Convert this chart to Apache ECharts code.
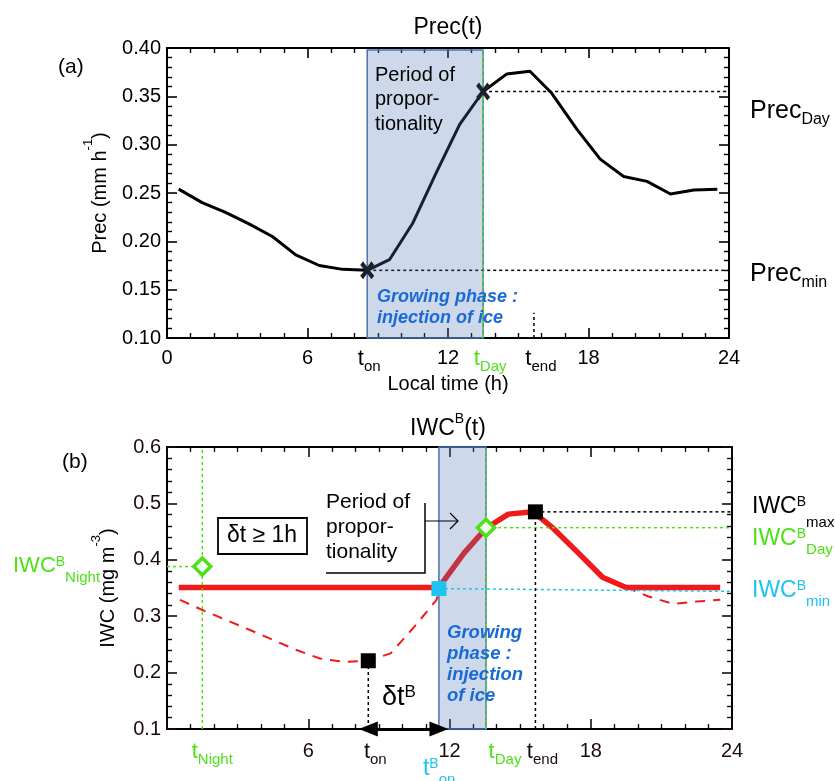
<!DOCTYPE html>
<html><head><meta charset="utf-8">
<script src="https://cdn.jsdelivr.net/npm/echarts@6/dist/echarts.min.js"></script>
<style>html,body{margin:0;padding:0;background:#fff}#c{width:835px;height:781px}</style>
</head><body><div id="c"></div>
<script>
// ================= DATA =================
// Panel (a): Prec(t)
const precHours  = [0.5,1.5,2.5,3.5,4.5,5.5,6.5,7.5,8.55,9.5,10.5,11.5,12.5,13.5,14.5,15.5,16.4,17.5,18.5,19.5,20.5,21.5,22.5,23.5];
const precValues = [0.254,0.240,0.230,0.218,0.205,0.186,0.175,0.171,0.170,0.181,0.219,0.271,0.321,0.355,0.373,0.376,0.354,0.316,0.285,0.267,0.262,0.249,0.253,0.254];
const tOnA = 8.55, tDayA = 13.5, tEndA = 15.67;
const precMin = 0.170, precDay = 0.355, tEndMarkTop = 0.126;
const topTickValues = [0, 6, tOnA, 12, tDayA, tEndA, 18, 24];
const topTickLabels = ['0','6','t_on','12','t_Day','t_end','18','24'];

// Panel (b): IWC^B(t)
const iwcHours  = [0.5,11.55,12.6,13.55,14.5,15.55,16.4,17.5,18.5,19.5,23.5];
const iwcValues = [0.351,0.351,0.411,0.456,0.481,0.485,0.456,0.411,0.369,0.351,0.351];
const obsHoursA  = [0.55,1.5,3.5,5.5,6.5,7.5,8.55,9.5,10.5,11.45,11.55];
const obsValuesA = [0.329,0.311,0.276,0.240,0.225,0.219,0.221,0.234,0.281,0.329,0.351];
const obsHoursB  = [19.5,20.45,21.5,22.5,23.5];
const obsValuesB = [0.351,0.335,0.322,0.326,0.329];
const tNight = 1.5, tOnB = 8.55, tOnBB = 11.55, tDayB = 13.55, tEndB = 15.65;
const iwcNight = 0.388, iwcMinStart = 0.349, iwcMinEnd = 0.344, iwcDay = 0.457, iwcMax = 0.485, iwcLow = 0.221;
const botTickValues = [0, tNight, 6, tOnB, 12, tDayB, tEndB, 18, 24];
const botTickLabels = ['0','t_Night','6','t_on','12','t_Day','t_end','18','24'];

// ================= STYLE =================
const FONT = '"Liberation Sans", Arial, Helvetica, sans-serif';
const GREEN = '#4fe01a', CYAN = '#1ec3ee', RED = '#f01a1a', BLUE_TXT = '#1a6ad6';
const BOX_FILL = 'rgba(74,120,180,0.28)', BOX_LINE = '#4a72ad';
const DARK = '#1c0a0a';
const topTickColors = ['#000','#000','#000','#000',GREEN,'#000','#000','#000'];
const topTickShift  = [0,0,2,0,7,7,0,0];
const botTickColors = [DARK,GREEN,DARK,DARK,DARK,GREEN,DARK,DARK,DARK];
const botTickShift  = [0,10,0,7,0,19,7,0,0];

function tickLabel(values, labels, colors, shifts, baseColor, margin) {
  const rich = {};
  values.forEach((v, i) => {
    if (labels[i].includes('_')) {
      rich['m' + i] = {fontSize: 22, fontFamily: FONT, color: colors[i], verticalAlign: 'top', lineHeight: 26, padding: [0, 0, 0, shifts[i] * 2]};
      rich['s' + i] = {fontSize: 15, fontFamily: FONT, color: colors[i], verticalAlign: 'bottom'};
    } else {
      rich['n' + i] = {fontSize: 20, fontFamily: FONT, color: colors[i], verticalAlign: 'top'};
    }
  });
  return {
    customValues: values, margin, fontSize: 20, fontFamily: FONT, color: baseColor, rich,
    formatter: (val) => {
      const i = values.findIndex(v => Math.abs(v - val) < 1e-6);
      if (i < 0) return '';
      const lab = labels[i];
      if (lab.includes('_')) { const p = lab.split('_'); return '{m' + i + '|' + p[0] + '}{s' + i + '|' + p[1] + '}'; }
      return '{n' + i + '|' + lab + '}';
    }
  };
}

function xAx(grid, pos, label, tickColor, name) {
  const a = {
    gridIndex: grid, type: 'value', min: 0, max: 24, interval: 6, position: pos,
    axisLine: {onZero: false, lineStyle: {color: '#000', width: 2}},
    axisTick: {inside: true, length: 10, lineStyle: {color: tickColor, width: 1.6}},
    minorTick: {show: true, splitNumber: 6, length: 5, lineStyle: {color: tickColor, width: 1.4}},
    splitLine: {show: false}, minorSplitLine: {show: false},
    axisLabel: label || {show: false}
  };
  if (name) Object.assign(a, name);
  return a;
}
function yAx(grid, pos, min, max, interval, split, digits, tickColor, labelColor, name) {
  const a = {
    gridIndex: grid, type: 'value', min, max, interval, position: pos,
    axisLine: {onZero: false, lineStyle: {color: '#000', width: 2}},
    axisTick: {inside: true, length: 10, lineStyle: {color: tickColor, width: 1.6}},
    minorTick: {show: true, splitNumber: split, length: 5, lineStyle: {color: tickColor, width: 1.4}},
    splitLine: {show: false}, minorSplitLine: {show: false},
    axisLabel: digits === null ? {show: false} :
      {show: true, margin: 6, fontSize: 20, fontFamily: FONT, color: labelColor, formatter: v => v.toFixed(digits)}
  };
  if (name) Object.assign(a, name);
  return a;
}

const zip = (xs, ys) => xs.map((x, i) => [x, ys[i]]);
function seg(xi, yi, pts, color, type, width, z) {
  return {type: 'line', xAxisIndex: xi, yAxisIndex: yi, data: pts, symbol: 'none', showSymbol: false, silent: true,
    z: z || 3, animation: false, lineStyle: {color, type, width}};
}
function box(xi, yi, b, z) {
  return {type: 'custom', xAxisIndex: xi, yAxisIndex: yi, z, silent: true, animation: false, data: [b],
    renderItem: (params, api) => {
      const p0 = api.coord([api.value(0), api.value(3)]);
      const p1 = api.coord([api.value(1), api.value(2)]);
      return {type: 'rect', shape: {x: p0[0], y: p0[1], width: p1[0] - p0[0], height: p1[1] - p0[1]},
        style: {fill: BOX_FILL, stroke: BOX_LINE, lineWidth: 1.5}};
    }};
}
function marker(xi, yi, pts, symbol, size, item, z) {
  return {type: 'scatter', xAxisIndex: xi, yAxisIndex: yi, data: pts, symbol, symbolSize: size,
    itemStyle: Object.assign({opacity: 1}, item), z: z || 8, silent: true, animation: false};
}
const XSYM = 'path://M2,0 L5,3.2 L8,0 L10,2 L6.8,5 L10,8 L8,10 L5,6.8 L2,10 L0,8 L3.2,5 L0,2 Z';

const series = [
  // ---- panel (a)
  seg(0, 0, zip(precHours, precValues), '#000', 'solid', 3, 2),
  seg(0, 0, [[tDayA, precDay], [24, precDay]], '#000', [3, 3], 1.5, 3),
  seg(0, 0, [[tOnA, precMin], [24, precMin]], '#000', [3, 3], 1.5, 3),
  seg(0, 0, [[tEndA, 0.10], [tEndA, tEndMarkTop]], '#000', [3, 3], 1.5, 3),
  box(0, 0, [tOnA, tDayA, 0.10, 0.398], 4),
  seg(0, 0, [[tDayA, 0.10], [tDayA, 0.398]], GREEN, [4, 3], 1.5, 6),
  marker(0, 0, [[tOnA, precMin], [tDayA, precDay]], XSYM, [14, 18], {color: '#1e2228'}, 7),
  // ---- panel (b)
  seg(2, 2, zip(iwcHours, iwcValues), RED, 'solid', 5.5, 2),
  seg(2, 2, zip(obsHoursA, obsValuesA), RED, [10, 8], 2, 2),
  seg(2, 2, zip(obsHoursB, obsValuesB), RED, [10, 8], 2, 2),
  box(2, 2, [tOnBB, tDayB, 0.1, 0.6], 4),
  seg(2, 2, [[tNight, 0.1], [tNight, 0.6]], GREEN, [3, 3], 1.5, 6),
  seg(2, 2, [[tDayB, 0.1], [tDayB, 0.6]], GREEN, [3, 3], 1.5, 6),
  seg(2, 2, [[0, iwcNight], [tNight, iwcNight]], GREEN, [3, 3], 1.5, 6),
  seg(2, 2, [[tDayB, iwcDay], [24, iwcDay]], GREEN, [3, 3], 1.5, 6),
  seg(2, 2, [[tEndB, iwcMax], [24, iwcMax]], '#000', [3, 3], 1.5, 6),
  seg(2, 2, [[tOnBB, iwcMinStart], [24, iwcMinEnd]], CYAN, [3, 3], 1.5, 6),
  seg(2, 2, [[tOnB, 0.1], [tOnB, iwcLow]], '#000', [3, 3], 1.5, 6),
  seg(2, 2, [[tEndB, 0.1], [tEndB, iwcMax]], '#000', [3, 3], 1.5, 6),
  {type: 'line', xAxisIndex: 2, yAxisIndex: 2, data: [], silent: true, z: 9,
    markLine: {silent: true, symbol: ['triangle', 'triangle'], symbolSize: [15, 19], animation: false,
      label: {show: false}, lineStyle: {color: '#000', width: 3, type: 'solid'},
      data: [[{coord: [tOnB, 0.1]}, {coord: [tOnBB, 0.1]}]]}},
  marker(2, 2, [[tOnB, iwcLow], [tEndB, iwcMax]], 'rect', 15, {color: '#000'}, 8),
  marker(2, 2, [[tOnBB, iwcMinStart]], 'rect', 15, {color: CYAN}, 8),
  marker(2, 2, [[tNight, iwcNight], [tDayB, iwcDay]], 'diamond', 17,
    {color: '#f2fff0', borderColor: GREEN, borderWidth: 3.5}, 8)
];

const option = {
  animation: false,
  backgroundColor: '#fff',
  grid: [
    {left: 167, top: 48, width: 562, height: 290, outerBoundsMode: 'none', containLabel: false},
    {left: 167, top: 447, width: 565, height: 282, outerBoundsMode: 'none', containLabel: false}
  ],
  xAxis: [
    xAx(0, 'bottom', tickLabel(topTickValues, topTickLabels, topTickColors, topTickShift, '#000', 10), '#000',
      {name: 'Local time (h)', nameLocation: 'middle', nameGap: 33,
       nameTextStyle: {fontSize: 20, fontFamily: FONT, color: '#000'}}),
    xAx(0, 'top', null, '#000'),
    xAx(1, 'bottom', tickLabel(botTickValues, botTickLabels, botTickColors, botTickShift, DARK, 12), DARK),
    xAx(1, 'top', null, DARK)
  ],
  yAxis: [
    yAx(0, 'left', 0.10, 0.40, 0.05, 5, 2, '#000', '#000',
      {name: '{a|Prec (mm h}{b|-1}{a|)}', nameLocation: 'middle', nameRotate: 90, nameGap: 57,
       nameTextStyle: {rich: {a: {fontSize: 20, fontFamily: FONT, color: '#000', verticalAlign: 'bottom', lineHeight: 28},
                              b: {fontSize: 13, fontFamily: FONT, color: '#000', verticalAlign: 'top'}}}}),
    yAx(0, 'right', 0.10, 0.40, 0.05, 5, null, '#000', '#000'),
    yAx(1, 'left', 0.1, 0.6, 0.1, 5, 1, DARK, DARK,
      {name: '{a|IWC (mg m}{b|-3}{a|)}', nameLocation: 'middle', nameRotate: 90, nameGap: 49,
       nameTextStyle: {rich: {a: {fontSize: 20, fontFamily: FONT, color: '#000', verticalAlign: 'bottom', lineHeight: 28},
                              b: {fontSize: 13, fontFamily: FONT, color: '#000', verticalAlign: 'top'}}}}),
    yAx(1, 'right', 0.1, 0.6, 0.1, 5, null, DARK, DARK)
  ],
  series
};

const chart = echarts.init(document.getElementById('c'));
chart.setOption(option);

// ================= ANNOTATIONS =================
function txt(x, y, text, size, color, extra) {
  const st = Object.assign({text, fontSize: size, fontFamily: FONT, fill: color, align: 'left', verticalAlign: 'middle',
    textAlign: 'left', textVerticalAlign: 'middle'}, extra || {});
  return {type: 'text', x, y, z: 100, silent: true, style: st};
}
// main + sup + sub rich label
function richLabel(x, top, main, sup, sub, color, mSize, sSize, drop, align) {
  const L = drop + (mSize + sSize) / 2;
  let t = '{m|' + main + '}';
  if (sup) t += '{p|' + sup + '}';
  if (sub) t += '{s|' + sub + '}';
  return {type: 'text', x, y: top, z: 100, silent: true, style: {
    text: t, fill: color, align: align || 'left', verticalAlign: 'top', textAlign: align || 'left', textVerticalAlign: 'top',
    fontFamily: FONT, fontSize: mSize,
    rich: {m: {fontSize: mSize, fontFamily: FONT, fill: color, color, verticalAlign: 'top', lineHeight: L},
           p: {fontSize: 14, fontFamily: FONT, fill: color, color, verticalAlign: 'top'},
           s: {fontSize: sSize, fontFamily: FONT, fill: color, color, verticalAlign: 'bottom'}}}};
}

const xOnB = chart.convertToPixel({xAxisIndex: 2}, tOnBB);
const yAxB = chart.convertToPixel({yAxisIndex: 2}, 0.1);

const graphics = [
  txt(448, 28, 'Prec(t)', 23, '#000', {align: 'center', textAlign: 'center'}),
  {type: 'text', x: 448, y: 426, z: 100, silent: true, style: {text: '{m|IWC}{p|B}{m|(t)}', align: 'center', verticalAlign: 'middle',
    textAlign: 'center', textVerticalAlign: 'middle', fontFamily: FONT, fontSize: 23, fill: '#000',
    rich: {m: {fontSize: 23, fontFamily: FONT, verticalAlign: 'bottom', lineHeight: 28}, p: {fontSize: 14, fontFamily: FONT, verticalAlign: 'top'}}}},
  txt(58, 67, '(a)', 21, '#000'),
  txt(62, 462, '(b)', 21, '#000'),
  richLabel(750, 99, 'Prec', null, 'Day', '#000', 25, 16, 8),
  richLabel(750, 262, 'Prec', null, 'min', '#000', 25, 16, 8),
  richLabel(752, 495, 'IWC', 'B', 'max', '#000', 23, 15, 16),
  richLabel(752, 527, 'IWC', 'B', 'Day', GREEN, 23, 15, 11),
  richLabel(752, 579, 'IWC', 'B', 'min', CYAN, 23, 15, 11),
  richLabel(13, 555, 'IWC', 'B', 'Night', GREEN, 22, 15, 12),
  txt(375, 63, 'Period of\npropor-\ntionality', 20, '#000', {lineHeight: 24.5, verticalAlign: 'top', textVerticalAlign: 'top'}),
  txt(377, 287, 'Growing phase :\ninjection of ice', 18, BLUE_TXT, {fontWeight: 'bold', fontStyle: 'italic', lineHeight: 21, verticalAlign: 'top', textVerticalAlign: 'top'}),
  txt(326, 490, 'Period of\npropor-\ntionality', 21, '#000', {lineHeight: 25, verticalAlign: 'top', textVerticalAlign: 'top'}),
  txt(447, 622, 'Growing\nphase :\ninjection\nof ice', 18.5, BLUE_TXT, {fontWeight: 'bold', fontStyle: 'italic', lineHeight: 21, verticalAlign: 'top', textVerticalAlign: 'top'}),
  {type: 'rect', z: 99, silent: true, shape: {x: 218, y: 518, width: 89, height: 36}, style: {fill: '#fff', stroke: '#000', lineWidth: 1.8}},
  txt(262, 536, 'δt ≥ 1h', 23, '#000', {align: 'center', textAlign: 'center'}),
  {type: 'polyline', z: 99, silent: true, shape: {points: [[425, 503], [425, 573], [326, 573]]}, style: {stroke: '#000', lineWidth: 1.5, fill: null}},
  {type: 'line', z: 99, silent: true, shape: {x1: 425, y1: 521, x2: 458, y2: 521}, style: {stroke: '#000', lineWidth: 1.2}},
  {type: 'polyline', z: 99, silent: true, shape: {points: [[450, 513], [458, 521], [450, 529]]}, style: {stroke: '#000', lineWidth: 1.2, fill: null}},
  {type: 'text', x: 382, y: 684, z: 100, silent: true, style: {text: '{m|δt}{p|B}', align: 'left', verticalAlign: 'top',
    textAlign: 'left', textVerticalAlign: 'top', fontFamily: FONT, fontSize: 27, fill: '#000',
    rich: {m: {fontSize: 27, fontFamily: FONT, verticalAlign: 'top'}, p: {fontSize: 17, fontFamily: FONT, verticalAlign: 'top'}}}},
  richLabel(xOnB - 16, yAxB + 28, 't', 'B', 'on', CYAN, 23, 15, 11)
];
chart.setOption({graphic: {elements: graphics}});
</script>
</body></html>
